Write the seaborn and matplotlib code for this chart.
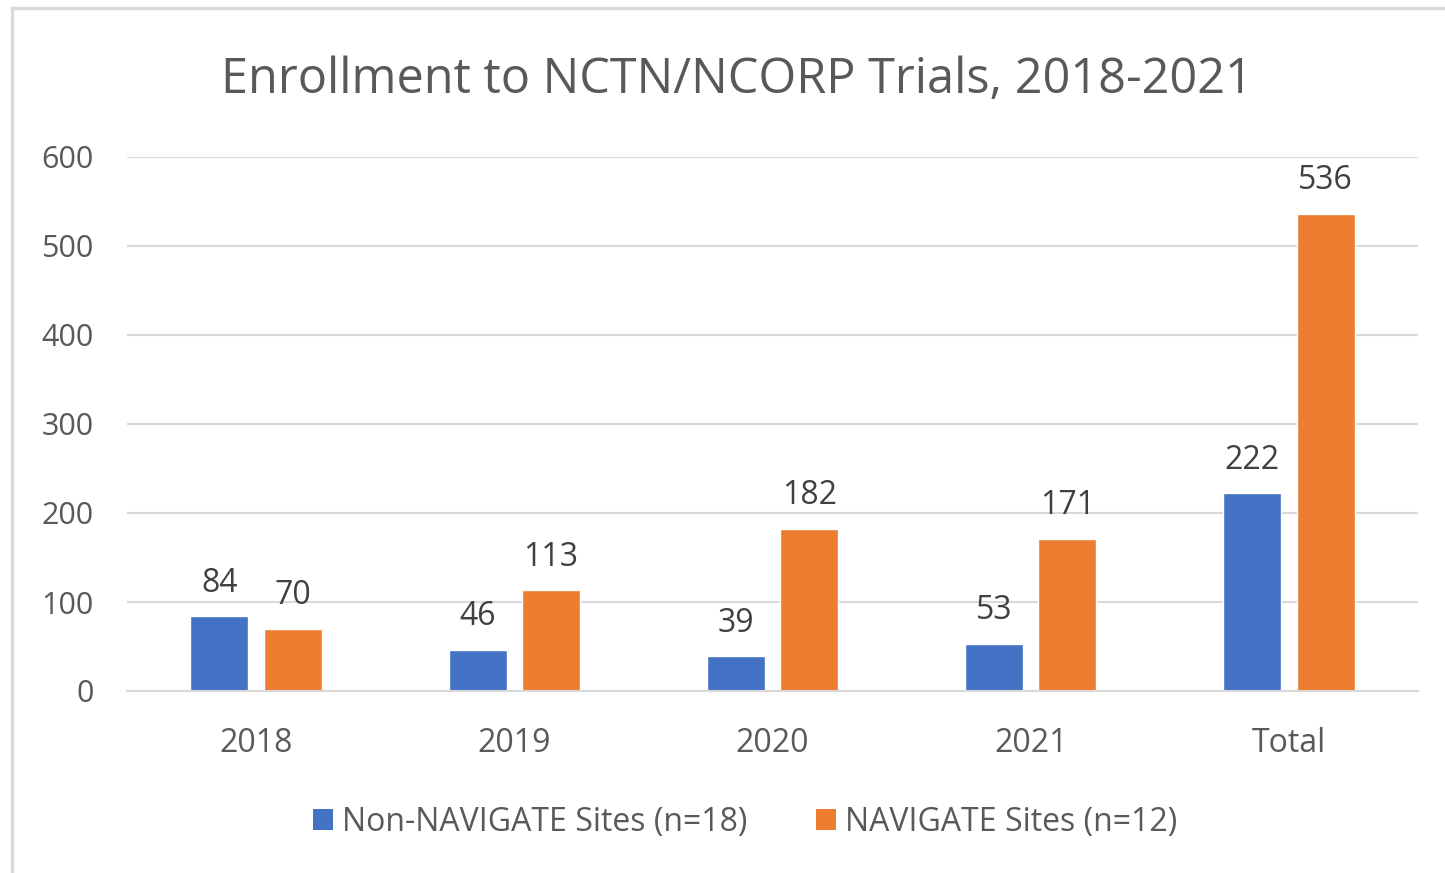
import matplotlib
matplotlib.use("Agg")
import matplotlib.pyplot as plt
import seaborn as sns
import pandas as pd
from matplotlib.lines import Line2D
from matplotlib.patches import Patch

categories = ["2018", "2019", "2020", "2021", "Total"]
non_navigate = [84, 46, 39, 53, 222]
navigate = [70, 113, 182, 171, 536]
series_names = ["Non-NAVIGATE Sites (n=18)", "NAVIGATE Sites (n=12)"]
title = "Enrollment to NCTN/NCORP Trials, 2018-2021"
yticks = [0, 100, 200, 300, 400, 500, 600]

df = pd.DataFrame({
    "cat": categories * 2,
    "val": non_navigate + navigate,
    "series": [series_names[0]] * len(categories) + [series_names[1]] * len(categories),
})

sns.set_theme(style="white")
plt.rcParams["font.family"] = ["Open Sans", "DejaVu Sans"]
txt = "#595959"
colors = ["#4472C4", "#ED7D31"]

fig = plt.figure(figsize=(14.45, 8.73), dpi=100)
ax = fig.add_axes([127/1445, 1-691/873, (1418-127)/1445, (691-157)/873])

sns.barplot(data=df, x="cat", y="val", hue="series", order=categories,
            hue_order=series_names, palette=colors, width=0.568, gap=0.21,
            saturation=1, ax=ax, legend=False)

for cont in ax.containers:
    ax.bar_label(cont, fontsize=23, color="#404040", padding=12)

ax.set_ylim(0, 600)
ax.set_yticks(yticks)
ax.set_xlim(-0.5, 4.5)
ax.yaxis.grid(True, color="#D9D9D9", linewidth=1.5)
ax.set_axisbelow(True)
for s in ["left", "right", "top"]:
    ax.spines[s].set_visible(False)
ax.spines["bottom"].set_color("#D9D9D9")
ax.spines["bottom"].set_linewidth(1.5)
ax.set_xlabel("")
ax.set_ylabel("")
ax.tick_params(axis="both", length=0, labelcolor=txt)
ax.tick_params(axis="y", pad=24, labelsize=22)
ax.tick_params(axis="x", pad=26, labelsize=23)

fig.text(737/1445, 1-80/873, title, ha="center", va="center", fontsize=35, color=txt)

handles = [Patch(facecolor=c, edgecolor="none") for c in colors]
fig.legend(handles, series_names, loc="center", bbox_to_anchor=(745/1445, 1-822/873),
           ncol=2, frameon=False, fontsize=23, labelcolor=txt, handlelength=0.62,
           handleheight=0.62, handletextpad=0.28, columnspacing=2.15)

# chart border
fig.add_artist(Line2D([12/1445, 12/1445], [0, 1-8/873], color="#D9D9D9", linewidth=2.5, transform=fig.transFigure))
fig.add_artist(Line2D([12/1445, 1], [1-8/873, 1-8/873], color="#D9D9D9", linewidth=2.5, transform=fig.transFigure))

fig.savefig("out.png", dpi=100)
